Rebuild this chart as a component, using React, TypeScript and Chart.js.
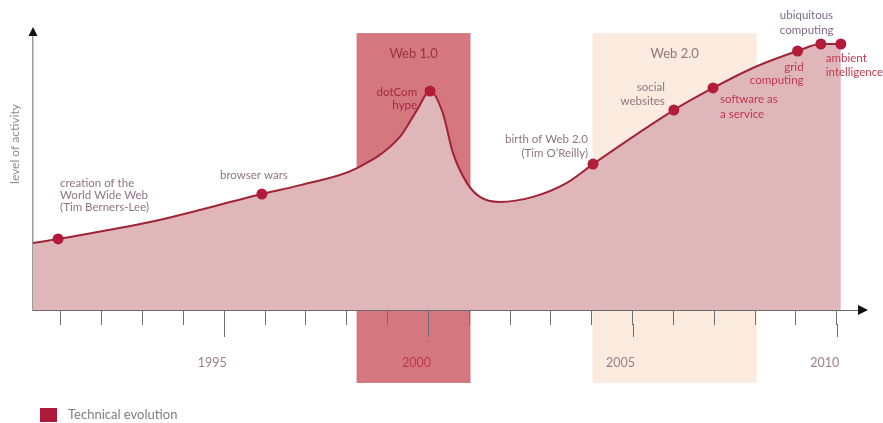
import React, { useEffect, useRef } from 'react';
import { Chart, registerables } from 'chart.js';

Chart.register(...registerables);

// ---- data ----
const milestoneLabels: string[][] = [
  ['creation of the', 'World Wide Web', '(Tim Berners-Lee)'],
  ['browser wars'],
  ['dotCom', 'hype'],
  ['birth of Web 2.0', '(Tim O\u2019Reilly)'],
  ['social', 'websites'],
  ['software as', 'a service'],
  ['grid', 'computing'],
  ['ubiquitous', 'computing'],
  ['ambient', 'intelligence'],
];
const milestoneYears = [1990.93, 1995.92, 2000.04, 2004.03, 2006.01, 2006.97, 2009.04, 2009.61, 2010.1];
const milestoneValues = [25.4, 41.4, 78.2, 52.1, 71.4, 79.3, 92.5, 95, 95];

const curveYears = [1990.315, 1993.18, 1996.86, 1998.25, 1999.3, 1999.72, 2000.35, 2000.6, 2000.94, 2001.26, 2001.75, 2002.56, 2003.39, 2008.0];
const curveValues = [23.9, 31.4, 44.6, 50.7, 61.8, 71.4, 70.4, 56.1, 45.4, 40.4, 38.6, 40.4, 45.4, 86.8];

const eraNames = ['Web 1.0', 'Web 2.0'];
const eraStart = [1998.24, 2004.02];
const eraEnd = [2001.03, 2008.04];

const yearLabels = [1995, 2000, 2005, 2010];
const legendLabel = 'Technical evolution';
const axisTitle = 'level of activity';

// ---- styles / layout ----
const X_MIN = 1990.315;
const X_MAX = 2010.52;
const ERA_TOP = 98.9;
const ERA_BELOW_AXIS = 73;
const ERA_COLORS = ['#d5777f', '#fbeade'];
const ERA_TEXT = ['#9c3244', '#8f7880'];
const GREY = '#8d7680';
const RED = '#c13850';
const DARKRED = '#a52a40';
const PURPLE = '#7f6c84';
const FONT = 'Lato, "Open Sans", sans-serif';

type LabelStyle = { dx: number; dy: number; align: CanvasTextAlign; lh: number; color: string };
const labelStyles: LabelStyle[] = [
  { dx: 2, dy: -56, align: 'left', lh: 12, color: GREY },
  { dx: -8, dy: -19, align: 'center', lh: 13, color: GREY },
  { dx: -13, dy: 1, align: 'right', lh: 13, color: DARKRED },
  { dx: -5, dy: -25, align: 'right', lh: 14, color: GREY },
  { dx: -9, dy: -23, align: 'right', lh: 14, color: GREY },
  { dx: 7, dy: 11, align: 'left', lh: 15, color: RED },
  { dx: 6, dy: 16, align: 'right', lh: 13, color: RED },
  { dx: -41, dy: -29, align: 'left', lh: 15, color: PURPLE },
  { dx: -15, dy: 14, align: 'left', lh: 14, color: RED },
];

const decorPlugin = {
  id: 'decor',
  beforeDraw(chart: any) {
    const { ctx, chartArea } = chart;
    const x = chart.scales.x;
    const y = chart.scales.y;
    ctx.save();
    eraNames.forEach((_, i) => {
      const x0 = x.getPixelForValue(eraStart[i]);
      const x1 = x.getPixelForValue(eraEnd[i]);
      const top = y.getPixelForValue(ERA_TOP);
      const bottom = chartArea.bottom + ERA_BELOW_AXIS;
      ctx.fillStyle = ERA_COLORS[i];
      ctx.fillRect(x0, top, x1 - x0, bottom - top);
    });
    ctx.restore();
  },
  afterDraw(chart: any) {
    const { ctx, chartArea } = chart;
    const x = chart.scales.x;
    const y = chart.scales.y;
    ctx.save();

    // long ticks for labelled years
    ctx.strokeStyle = '#6e6e6e';
    ctx.lineWidth = 1;
    yearLabels.forEach((yr) => {
      const px = Math.round(x.getPixelForValue(yr)) + 0.5;
      ctx.beginPath();
      ctx.moveTo(px, chartArea.bottom + 14);
      ctx.lineTo(px, chartArea.bottom + 27);
      ctx.stroke();
    });

    // x arrow
    ctx.fillStyle = '#111';
    const ay = chartArea.bottom;
    ctx.beginPath();
    ctx.moveTo(chartArea.right, ay - 5);
    ctx.lineTo(chartArea.right + 10, ay);
    ctx.lineTo(chartArea.right, ay + 5);
    ctx.closePath();
    ctx.fill();

    // y arrow
    const ax = chartArea.left;
    ctx.beginPath();
    ctx.moveTo(ax - 4.5, chartArea.top + 6);
    ctx.lineTo(ax, chartArea.top - 3);
    ctx.lineTo(ax + 4.5, chartArea.top + 6);
    ctx.closePath();
    ctx.fill();

    // era titles
    ctx.font = `13px ${FONT}`;
    ctx.textAlign = 'center';
    ctx.textBaseline = 'middle';
    eraNames.forEach((name, i) => {
      const cx = (x.getPixelForValue(eraStart[i]) + x.getPixelForValue(eraEnd[i])) / 2;
      ctx.fillStyle = ERA_TEXT[i];
      ctx.fillText(name, cx, y.getPixelForValue(ERA_TOP) + 21);
    });

    // milestone annotations
    ctx.font = `11.5px ${FONT}`;
    milestoneLabels.forEach((lines, i) => {
      const st = labelStyles[i];
      const px = x.getPixelForValue(milestoneYears[i]);
      const py = y.getPixelForValue(milestoneValues[i]);
      ctx.fillStyle = st.color;
      ctx.textAlign = st.align;
      lines.forEach((t, j) => ctx.fillText(t, px + st.dx, py + st.dy + j * st.lh));
    });

    // y axis title
    ctx.save();
    ctx.translate(15, 144);
    ctx.rotate(-Math.PI / 2);
    ctx.textAlign = 'center';
    ctx.fillStyle = '#8a8a8a';
    ctx.font = `12px ${FONT}`;
    ctx.fillText(axisTitle, 0, 0);
    ctx.restore();

    // legend
    ctx.fillStyle = '#b01a3a';
    ctx.fillRect(40, 408, 17, 14);
    ctx.fillStyle = '#857a80';
    ctx.font = `13px ${FONT}`;
    ctx.textAlign = 'left';
    ctx.fillText(legendLabel, 68, 415);

    ctx.restore();
  },
};

export default function App() {
  const ref = useRef<HTMLCanvasElement>(null);
  useEffect(() => {
    document.body.style.margin = '0';
    const canvas = ref.current!;
    const curve = [
      ...curveYears.map((v, i) => ({ x: v, y: curveValues[i] })),
      ...milestoneYears.map((v, i) => ({ x: v, y: milestoneValues[i] })),
    ].sort((a, b) => a.x - b.x);
    const milestones = milestoneYears.map((v, i) => ({ x: v, y: milestoneValues[i] }));

    const chart = new Chart(canvas, {
      type: 'line',
      data: {
        datasets: [
          {
            label: 'milestones',
            data: milestones,
            showLine: false,
            pointRadius: 5.5,
            pointHoverRadius: 5.5,
            pointBackgroundColor: '#b31b3b',
            pointBorderColor: '#b31b3b',
            pointBorderWidth: 0,
            order: 0,
          },
          {
            label: legendLabel,
            data: curve,
            borderColor: '#9f2437',
            borderWidth: 2,
            backgroundColor: '#dfb7bb',
            fill: 'origin',
            pointRadius: 0,
            pointHoverRadius: 0,
            cubicInterpolationMode: 'monotone',
            order: 1,
          },
        ],
      },
      options: {
        animation: false,
        responsive: true,
        maintainAspectRatio: false,
        events: [],
        layout: { padding: { left: 0, right: 25, top: 30, bottom: 0 } },
        plugins: { legend: { display: false }, tooltip: { enabled: false } },
        scales: {
          x: {
            type: 'linear',
            min: X_MIN,
            max: X_MAX,
            afterFit: (s: any) => {
              s.height = 113;
            },
            border: { display: true, color: '#6a6a6a', width: 1 },
            grid: { drawOnChartArea: false, drawTicks: true, tickLength: 15, tickColor: '#6e6e6e', tickWidth: 1 },
            ticks: {
              stepSize: 1,
              autoSkip: false,
              includeBounds: false,
              maxTicksLimit: 100,
              maxRotation: 0,
              padding: 30,
              labelOffset: -12,
              callback: (v: any) => (yearLabels.includes(Number(v)) ? String(v) : ''),
              color: (c: any) => (c.tick && c.tick.value === 2000 ? RED : '#9b7f88'),
              font: { family: FONT, size: 12.5 },
            },
          },
          y: {
            min: 0,
            max: 100,
            afterFit: (s: any) => {
              s.width = 33;
            },
            ticks: { display: false },
            grid: { display: true, drawOnChartArea: false, drawTicks: false },
            border: { display: true, color: '#9a9a9a', width: 1.5 },
          },
        },
      } as any,
      plugins: [decorPlugin],
    });
    return () => chart.destroy();
  }, []);
  return (
    <div style={{ position: 'fixed', left: 0, top: 0, width: 883, height: 423 }}>
      <canvas ref={ref} />
    </div>
  );
}
